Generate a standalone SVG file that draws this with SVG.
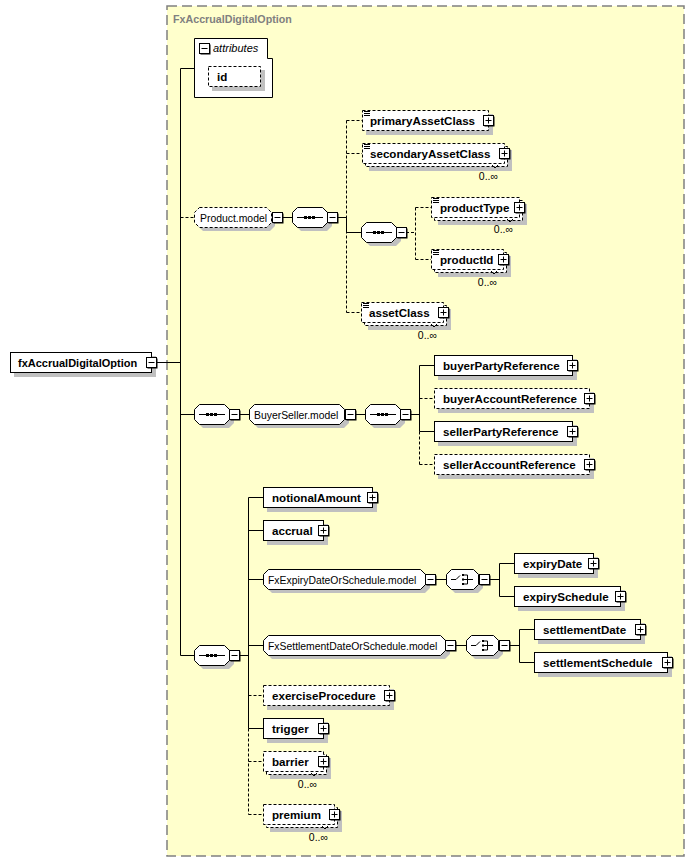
<svg xmlns="http://www.w3.org/2000/svg" xmlns:xlink="http://www.w3.org/1999/xlink" width="695" height="862" viewBox="0 0 695 862">
<style>
.sh{fill:#c0c0c0;stroke:none}
.el{fill:#fff;stroke:#000;stroke-width:1}
.opt{stroke-dasharray:3 2}
.t{font-family:"Liberation Sans",Arial,sans-serif;font-size:11.6px;font-weight:bold;fill:#000}
.g{font-family:"Liberation Sans",Arial,sans-serif;font-size:10.4px;fill:#000}
.m{font-family:"Liberation Sans",Arial,sans-serif;font-size:10.5px;fill:#000;text-anchor:end}
.c line,.c path{stroke:#000;stroke-width:1;fill:none}
.c .d{stroke-dasharray:3 2}
.ic{stroke:#000;stroke-width:1;fill:none}
.tk{stroke:#000;stroke-width:1;fill:none}
</style>
<defs>
<g id="plus"><rect x="1.5" y="1.5" width="10" height="10" fill="#000"/><rect x="0.5" y="0.5" width="10" height="10" fill="#fff" stroke="#000"/><path d="M2.5 5.5h6M5.5 2.5v6" stroke="#000"/></g>
<g id="minus"><rect x="1.5" y="1.5" width="10" height="10" fill="#000"/><rect x="0.5" y="0.5" width="10" height="10" fill="#fff" stroke="#000"/><path d="M2.5 5.5h6" stroke="#000"/></g>
<g id="lines"><path d="M2 1.5h6M2 3.5h6M2 5.5h6" stroke="#000"/></g>
<g id="seq">
<path class="sh" d="M9 4H35L40 9V19L35 24H9L4 19V9Z"/>
<path class="el" d="M5.5 0.5H30.5L35.5 5.5V15.5L30.5 20.5H5.5L0.5 15.5V5.5Z"/>
<path d="M5 10.5H31" stroke="#000"/>
<rect x="12" y="9" width="3" height="3"/><rect x="16" y="9" width="3" height="3"/><rect x="20" y="9" width="3" height="3"/>
<use xlink:href="#minus" x="35" y="5"/>
</g>
<g id="cho">
<path class="sh" d="M9 4H32L37 9V19L32 24H9L4 19V9Z"/>
<path class="el" d="M5.5 0.5H27.5L32.5 5.5V15.5L27.5 20.5H5.5L0.5 15.5V5.5Z"/>
<path class="ic" d="M5 10.5H10L14 6.5"/>
<rect x="16" y="5" width="2" height="2"/><rect x="16" y="9.5" width="2" height="2"/><rect x="16" y="14" width="2" height="2"/>
<path class="ic" d="M18 6H21.5V15H18M18 10.5H27"/>
<use xlink:href="#minus" x="33" y="5"/>
</g>
</defs>

<rect width="695" height="862" fill="#fff"/>
<g id="complexType">
<rect x="167" y="6" width="517" height="850" fill="#ffffcc" stroke="#808080" stroke-width="1.5" stroke-dasharray="10 5"/>
<text x="173" y="23" style="font-family:'Liberation Sans',Arial,sans-serif;font-size:10.7px;font-weight:bold;fill:#808080">FxAccrualDigitalOption</text>
</g>

<g id="connectors" class="c">
<line x1="156" y1="362.5" x2="180.5" y2="362.5"/>
<line x1="180.5" y1="68.5" x2="180.5" y2="655.5"/>
<line x1="180.5" y1="68.5" x2="194" y2="68.5"/>
<line class="d" x1="180.5" y1="217.5" x2="194" y2="217.5"/>
<line x1="282" y1="217.5" x2="292" y2="217.5"/>
<line x1="337" y1="217.5" x2="346.5" y2="217.5"/>
<line class="d" x1="346.5" y1="120.5" x2="346.5" y2="312.5"/>
<line x1="346.5" y1="217.5" x2="346.5" y2="232.5"/>
<line class="d" x1="346.5" y1="120.5" x2="362" y2="120.5"/>
<line class="d" x1="346.5" y1="153.5" x2="362" y2="153.5"/>
<line x1="346.5" y1="232.5" x2="361" y2="232.5"/>
<line class="d" x1="346.5" y1="312.5" x2="361" y2="312.5"/>
<line class="d" x1="406" y1="232.5" x2="415.5" y2="232.5"/>
<line class="d" x1="415.5" y1="207.5" x2="415.5" y2="259.5"/>
<line class="d" x1="415.5" y1="207.5" x2="431" y2="207.5"/>
<line class="d" x1="415.5" y1="259.5" x2="431" y2="259.5"/>
<line x1="180.5" y1="414.5" x2="194" y2="414.5"/>
<line x1="238" y1="414.5" x2="249" y2="414.5"/>
<line x1="355" y1="414.5" x2="365" y2="414.5"/>
<line x1="410" y1="414.5" x2="419.5" y2="414.5"/>
<line x1="419.5" y1="365.5" x2="419.5" y2="431.5"/>
<line class="d" x1="419.5" y1="431.5" x2="419.5" y2="464.5"/>
<line x1="419.5" y1="365.5" x2="434" y2="365.5"/>
<line class="d" x1="419.5" y1="398.5" x2="434" y2="398.5"/>
<line x1="419.5" y1="431.5" x2="434" y2="431.5"/>
<line class="d" x1="419.5" y1="464.5" x2="434" y2="464.5"/>
<line x1="180.5" y1="655.5" x2="194" y2="655.5"/>
<line x1="238" y1="655.5" x2="248.5" y2="655.5"/>
<line x1="248.5" y1="497.5" x2="248.5" y2="728.5"/>
<line class="d" x1="248.5" y1="728.5" x2="248.5" y2="814.5"/>
<line x1="248.5" y1="497.5" x2="263" y2="497.5"/>
<line x1="248.5" y1="530.5" x2="263" y2="530.5"/>
<line x1="248.5" y1="579.5" x2="263" y2="579.5"/>
<line x1="248.5" y1="645.5" x2="263" y2="645.5"/>
<line class="d" x1="248.5" y1="695.5" x2="263" y2="695.5"/>
<line x1="248.5" y1="728.5" x2="263" y2="728.5"/>
<line class="d" x1="248.5" y1="761.5" x2="263" y2="761.5"/>
<line class="d" x1="248.5" y1="814.5" x2="263" y2="814.5"/>
<line x1="435" y1="579.5" x2="446" y2="579.5"/>
<line x1="489" y1="579.5" x2="499.5" y2="579.5"/>
<line x1="499.5" y1="563.5" x2="499.5" y2="596.5"/>
<line x1="499.5" y1="563.5" x2="514" y2="563.5"/>
<line x1="499.5" y1="596.5" x2="514" y2="596.5"/>
<line x1="455" y1="645.5" x2="466" y2="645.5"/>
<line x1="509" y1="645.5" x2="519.5" y2="645.5"/>
<line x1="519.5" y1="629.5" x2="519.5" y2="662.5"/>
<line x1="519.5" y1="629.5" x2="534" y2="629.5"/>
<line x1="519.5" y1="662.5" x2="534" y2="662.5"/>
</g>

<g id="fxAccrualDigitalOption">
<rect class="sh" x="14" y="356" width="142" height="21"/>
<rect class="el" x="10.5" y="352.5" width="141" height="20"/>
<text class="t" x="18" y="366.5" style="font-size:11px">fxAccrualDigitalOption</text>
<use xlink:href="#minus" x="146" y="357"/>
</g>

<g id="attributes">
<path class="el" d="M194.5 38.5H267.5V58.5H272.5V97.5H194.5Z"/>
<use xlink:href="#minus" x="199" y="43"/>
<text x="213" y="52" style="font-family:'Liberation Sans',Arial,sans-serif;font-size:11px;font-style:italic;fill:#000">attributes</text>
<rect class="sh" x="212" y="70" width="53" height="21"/>
<rect class="el opt" x="208.5" y="66.5" width="52" height="20"/>
<text class="t" x="217" y="81">id</text>
</g>

<g id="Product.model">
<path class="sh" d="M203 211H270L275 216V226L270 231H203L198 226V216Z"/>
<path class="el opt" d="M199.5 207.5H266.5L271.5 212.5V222.5L266.5 227.5H199.5L194.5 222.5V212.5Z"/>
<text class="g" x="200" y="221.5">Product.model</text>
<use xlink:href="#minus" x="272" y="212"/>
</g>
<g id="seq-product"><use xlink:href="#seq" x="292" y="207"/></g>

<g id="primaryAssetClass">
<rect class="sh" x="366" y="114" width="127" height="21"/>
<rect class="el opt" x="362.5" y="110.5" width="126" height="20"/>
<use xlink:href="#lines" x="362" y="110"/>
<text class="t" x="370" y="124.5">primaryAssetClass</text>
<use xlink:href="#plus" x="483" y="115"/>
</g>

<g id="secondaryAssetClass">
<rect class="sh" x="369" y="150" width="143" height="21"/>
<rect class="el opt" x="365.5" y="146.5" width="142" height="20"/>
<rect class="el opt" x="362.5" y="143.5" width="142" height="20"/>
<path class="tk" d="M492 165L495 168L498 165"/>
<use xlink:href="#lines" x="362" y="143"/>
<text class="t" x="370" y="157.5">secondaryAssetClass</text>
<use xlink:href="#plus" x="499" y="148"/>
<text class="m" x="498" y="180">0..∞</text>
</g>

<g id="seq-inner"><use xlink:href="#seq" x="361" y="222"/></g>

<g id="productType">
<rect class="sh" x="438" y="204" width="89" height="21"/>
<rect class="el opt" x="434.5" y="200.5" width="88" height="20"/>
<rect class="el opt" x="431.5" y="197.5" width="88" height="20"/>
<path class="tk" d="M507 219L510 222L513 219"/>
<use xlink:href="#lines" x="431" y="197"/>
<text class="t" x="440" y="211.5">productType</text>
<use xlink:href="#plus" x="514" y="202"/>
<text class="m" x="513" y="233">0..∞</text>
</g>

<g id="productId">
<rect class="sh" x="438" y="256" width="73" height="21"/>
<rect class="el opt" x="434.5" y="252.5" width="72" height="20"/>
<rect class="el opt" x="431.5" y="249.5" width="72" height="20"/>
<path class="tk" d="M491 271L494 274L497 271"/>
<use xlink:href="#lines" x="431" y="249"/>
<text class="t" x="440" y="263.5">productId</text>
<use xlink:href="#plus" x="498" y="254"/>
<text class="m" x="497" y="285.5">0..∞</text>
</g>

<g id="assetClass">
<rect class="sh" x="368" y="309" width="83" height="21"/>
<rect class="el opt" x="364.5" y="305.5" width="82" height="20"/>
<rect class="el opt" x="361.5" y="302.5" width="82" height="20"/>
<path class="tk" d="M431 324L434 327L437 324"/>
<use xlink:href="#lines" x="361" y="302"/>
<text class="t" x="369" y="316.5">assetClass</text>
<use xlink:href="#plus" x="438" y="307"/>
<text class="m" x="437" y="338.5">0..∞</text>
</g>

<g id="seq-buyerseller-outer"><use xlink:href="#seq" x="194" y="404"/></g>
<g id="BuyerSeller.model">
<path class="sh" d="M258 408H344L349 413V423L344 428H258L253 423V413Z"/>
<path class="el" d="M254.5 404.5H339.5L344.5 409.5V419.5L339.5 424.5H254.5L249.5 419.5V409.5Z"/>
<text class="g" x="254" y="418.5">BuyerSeller.model</text>
<use xlink:href="#minus" x="345" y="409"/>
</g>
<g id="seq-buyerseller"><use xlink:href="#seq" x="365" y="404"/></g>

<g id="buyerPartyReference">
<rect class="sh" x="438" y="359" width="139" height="21"/>
<rect class="el" x="434.5" y="355.5" width="138" height="20"/>
<text class="t" x="443" y="369.5">buyerPartyReference</text>
<use xlink:href="#plus" x="567" y="360"/>
</g>
<g id="buyerAccountReference">
<rect class="sh" x="438" y="392" width="156" height="21"/>
<rect class="el opt" x="434.5" y="388.5" width="155" height="20"/>
<text class="t" x="443" y="402.5">buyerAccountReference</text>
<use xlink:href="#plus" x="584" y="393"/>
</g>
<g id="sellerPartyReference">
<rect class="sh" x="438" y="425" width="139" height="21"/>
<rect class="el" x="434.5" y="421.5" width="138" height="20"/>
<text class="t" x="443" y="435.5">sellerPartyReference</text>
<use xlink:href="#plus" x="567" y="426"/>
</g>
<g id="sellerAccountReference">
<rect class="sh" x="438" y="458" width="156" height="21"/>
<rect class="el opt" x="434.5" y="454.5" width="155" height="20"/>
<text class="t" x="443" y="468.5">sellerAccountReference</text>
<use xlink:href="#plus" x="584" y="459"/>
</g>

<g id="seq-main"><use xlink:href="#seq" x="194" y="645"/></g>

<g id="notionalAmount">
<rect class="sh" x="267" y="491" width="110" height="21"/>
<rect class="el" x="263.5" y="487.5" width="109" height="20"/>
<text class="t" x="272" y="501.5">notionalAmount</text>
<use xlink:href="#plus" x="367" y="492"/>
</g>
<g id="accrual">
<rect class="sh" x="267" y="524" width="61" height="21"/>
<rect class="el" x="263.5" y="520.5" width="60" height="20"/>
<text class="t" x="272" y="534.5">accrual</text>
<use xlink:href="#plus" x="318" y="525"/>
</g>

<g id="FxExpiryDateOrSchedule.model">
<path class="sh" d="M272 573H425L430 578V588L425 593H272L267 588V578Z"/>
<path class="el" d="M268.5 569.5H420.5L425.5 574.5V584.5L420.5 589.5H268.5L263.5 584.5V574.5Z"/>
<text class="g" x="268" y="583.5">FxExpiryDateOrSchedule.model</text>
<use xlink:href="#minus" x="425" y="574"/>
</g>
<g id="choice-expiry"><use xlink:href="#cho" x="446" y="569"/></g>
<g id="expiryDate">
<rect class="sh" x="518" y="557" width="80" height="21"/>
<rect class="el" x="514.5" y="553.5" width="79" height="20"/>
<text class="t" x="523" y="567.5">expiryDate</text>
<use xlink:href="#plus" x="588" y="558"/>
</g>
<g id="expirySchedule">
<rect class="sh" x="518" y="590" width="107" height="21"/>
<rect class="el" x="514.5" y="586.5" width="106" height="20"/>
<text class="t" x="523" y="600.5">expirySchedule</text>
<use xlink:href="#plus" x="615" y="591"/>
</g>

<g id="FxSettlementDateOrSchedule.model">
<path class="sh" d="M272 639H445L450 644V654L445 659H272L267 654V644Z"/>
<path class="el" d="M268.5 635.5H440.5L445.5 640.5V650.5L440.5 655.5H268.5L263.5 650.5V640.5Z"/>
<text class="g" x="268" y="649.5">FxSettlementDateOrSchedule.model</text>
<use xlink:href="#minus" x="445" y="640"/>
</g>
<g id="choice-settlement"><use xlink:href="#cho" x="466" y="635"/></g>
<g id="settlementDate">
<rect class="sh" x="538" y="623" width="107" height="21"/>
<rect class="el" x="534.5" y="619.5" width="106" height="20"/>
<text class="t" x="543" y="633.5">settlementDate</text>
<use xlink:href="#plus" x="635" y="624"/>
</g>
<g id="settlementSchedule">
<rect class="sh" x="538" y="656" width="134" height="21"/>
<rect class="el" x="534.5" y="652.5" width="133" height="20"/>
<text class="t" x="543" y="666.5">settlementSchedule</text>
<use xlink:href="#plus" x="662" y="657"/>
</g>

<g id="exerciseProcedure">
<rect class="sh" x="267" y="689" width="127" height="21"/>
<rect class="el opt" x="263.5" y="685.5" width="126" height="20"/>
<text class="t" x="272" y="699.5">exerciseProcedure</text>
<use xlink:href="#plus" x="384" y="690"/>
</g>
<g id="trigger">
<rect class="sh" x="267" y="722" width="61" height="21"/>
<rect class="el" x="263.5" y="718.5" width="60" height="20"/>
<text class="t" x="272" y="732.5">trigger</text>
<use xlink:href="#plus" x="318" y="723"/>
</g>
<g id="barrier">
<rect class="sh" x="270" y="758" width="61" height="21"/>
<rect class="el opt" x="266.5" y="754.5" width="60" height="20"/>
<rect class="el opt" x="263.5" y="751.5" width="60" height="20"/>
<path class="tk" d="M311 773L314 776L317 773"/>
<text class="t" x="272" y="765.5">barrier</text>
<use xlink:href="#plus" x="318" y="756"/>
<text class="m" x="317" y="788">0..∞</text>
</g>
<g id="premium">
<rect class="sh" x="270" y="811" width="72" height="21"/>
<rect class="el opt" x="266.5" y="807.5" width="71" height="20"/>
<rect class="el opt" x="263.5" y="804.5" width="71" height="20"/>
<path class="tk" d="M322 826L325 829L328 826"/>
<text class="t" x="272" y="818.5">premium</text>
<use xlink:href="#plus" x="329" y="809"/>
<text class="m" x="328" y="841">0..∞</text>
</g>
</svg>
